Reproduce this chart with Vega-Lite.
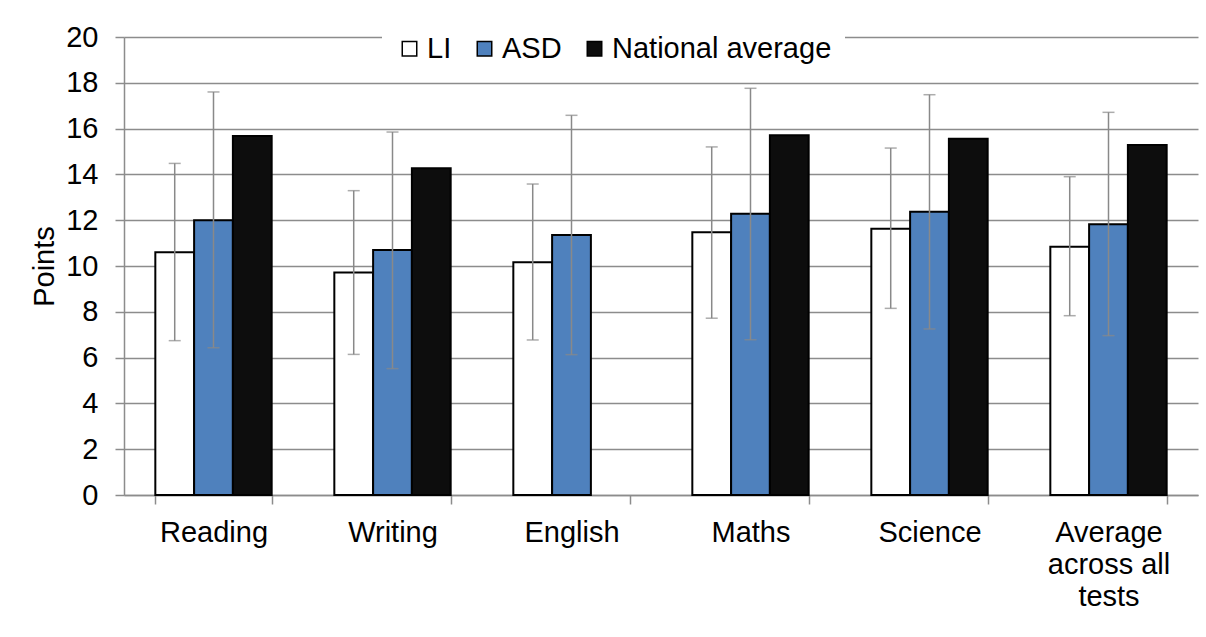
{
  "$schema": "https://vega.github.io/schema/vega-lite/v6.json",
  "width": 1074,
  "height": 458,
  "autosize": "none",
  "padding": {"left": 124, "top": 37, "right": 8, "bottom": 142},
  "background": "white",
  "config": {"view": {"stroke": null}, "font": "Liberation Sans"},
  "data": {
    "values": [
      {"test": "Reading", "series": "LI", "value": 10.6, "lo": 6.74, "hi": 14.48},
      {"test": "Reading", "series": "ASD", "value": 12.0, "lo": 6.43, "hi": 17.6},
      {"test": "Reading", "series": "National average", "value": 15.68, "lo": null, "hi": null},
      {"test": "Writing", "series": "LI", "value": 9.72, "lo": 6.14, "hi": 13.29},
      {"test": "Writing", "series": "ASD", "value": 10.7, "lo": 5.52, "hi": 15.85},
      {"test": "Writing", "series": "National average", "value": 14.27, "lo": null, "hi": null},
      {"test": "English", "series": "LI", "value": 10.16, "lo": 6.77, "hi": 13.58},
      {"test": "English", "series": "ASD", "value": 11.35, "lo": 6.13, "hi": 16.58},
      {"test": "Maths", "series": "LI", "value": 11.47, "lo": 7.72, "hi": 15.2},
      {"test": "Maths", "series": "ASD", "value": 12.28, "lo": 6.78, "hi": 17.76},
      {"test": "Maths", "series": "National average", "value": 15.71, "lo": null, "hi": null},
      {"test": "Science", "series": "LI", "value": 11.63, "lo": 8.15, "hi": 15.15},
      {"test": "Science", "series": "ASD", "value": 12.37, "lo": 7.25, "hi": 17.48},
      {"test": "Science", "series": "National average", "value": 15.56, "lo": null, "hi": null},
      {"test": "Average across all tests", "series": "LI", "value": 10.84, "lo": 7.83, "hi": 13.9},
      {"test": "Average across all tests", "series": "ASD", "value": 11.82, "lo": 6.96, "hi": 16.71},
      {"test": "Average across all tests", "series": "National average", "value": 15.28, "lo": null, "hi": null}
    ]
  },
  "encoding": {
    "x": {
      "field": "test",
      "type": "nominal",
      "sort": ["Reading", "Writing", "English", "Maths", "Science", "Average across all tests"],
      "scale": {"paddingInner": 0.35, "paddingOuter": 0.175},
      "axis": {
        "title": null,
        "labelAngle": 0,
        "labelFontSize": 29,
        "labelColor": "#000000",
        "labelPadding": 14,
        "labelLineHeight": 32,
        "labelLimit": 0,
        "labelExpr": "datum.label == 'Average across all tests' ? ['Average', 'across all', 'tests'] : datum.label",
        "tickBand": "extent",
        "tickSize": 9,
        "tickColor": "#8c8c8c",
        "tickWidth": 1.5,
        "domainColor": "#8c8c8c",
        "domainWidth": 1.5,
        "grid": false
      }
    },
    "xOffset": {
      "field": "series",
      "type": "nominal",
      "sort": ["LI", "ASD", "National average"],
      "scale": {"domain": ["LI", "ASD", "National average"], "paddingInner": 0, "paddingOuter": 0}
    }
  },
  "layer": [
    {
      "mark": {"type": "bar", "stroke": "#000000", "strokeWidth": 2},
      "encoding": {
        "y": {
          "field": "value",
          "type": "quantitative",
          "scale": {"domain": [0, 20], "nice": false},
          "axis": {
            "title": "Points",
            "titleFontSize": 29,
            "titleFontWeight": "normal",
            "titleColor": "#000000",
            "titleAngle": -90,
            "titleBaseline": "alphabetic",
            "titleX": -71,
            "titleY": 229,
            "values": [0, 2, 4, 6, 8, 10, 12, 14, 16, 18, 20],
            "labelFontSize": 29,
            "labelColor": "#000000",
            "labelPadding": 17,
            "tickSize": 9,
            "tickColor": "#8c8c8c",
            "tickWidth": 1.5,
            "domainColor": "#8c8c8c",
            "domainWidth": 1.5,
            "grid": true,
            "gridColor": "#8c8c8c",
            "gridWidth": 1.5
          }
        },
        "fill": {
          "field": "series",
          "type": "nominal",
          "scale": {"domain": ["LI", "ASD", "National average"], "range": ["#ffffff", "#4f81bd", "#0d0d0d"]},
          "legend": {
            "title": null,
            "orient": "none",
            "legendX": 258,
            "legendY": -16,
            "direction": "horizontal",
            "symbolType": "square",
            "symbolSize": 210,
            "symbolStrokeColor": "#000000",
            "symbolStrokeWidth": 1.5,
            "labelFontSize": 29,
            "labelColor": "#000000",
            "labelOffset": 3,
            "labelLimit": 0,
            "columnPadding": 18,
            "padding": 13,
            "fillColor": "#ffffff"
          }
        }
      }
    },
    {
      "transform": [{"filter": "datum.lo != null"}],
      "mark": {"type": "rule", "color": "#898989", "strokeWidth": 1.5},
      "encoding": {
        "y": {"field": "lo", "type": "quantitative"},
        "y2": {"field": "hi"}
      }
    },
    {
      "transform": [{"filter": "datum.lo != null"}],
      "mark": {"type": "tick", "color": "#898989", "thickness": 1.5, "size": 12, "orient": "horizontal"},
      "encoding": {"y": {"field": "lo", "type": "quantitative"}}
    },
    {
      "transform": [{"filter": "datum.hi != null"}],
      "mark": {"type": "tick", "color": "#898989", "thickness": 1.5, "size": 12, "orient": "horizontal"},
      "encoding": {"y": {"field": "hi", "type": "quantitative"}}
    }
  ]
}
